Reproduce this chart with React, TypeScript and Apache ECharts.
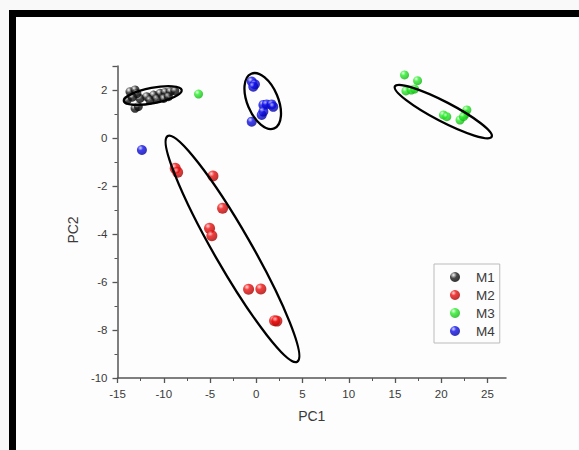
import React, { useEffect, useRef } from "react";
import * as echarts from "echarts";

// PC1 / PC2 scores
const M1: number[][] = [
  [-13.65, 1.93], [-13.1, 2.0], [-13.94, 1.58], [-13.1, 1.24], [-12.75, 1.31],
  [-12.57, 1.65], [-11.85, 1.72], [-11.1, 1.79], [-10.4, 1.86], [-9.86, 1.9],
  [-9.3, 1.93], [-8.8, 1.96], [-11.5, 1.58], [-10.75, 1.63], [-10.0, 1.65],
  [-9.5, 1.72], [-12.9, 1.85], [-13.4, 1.7],
];
const M2: number[][] = [
  [-8.76, -1.26], [-8.5, -1.43], [-4.68, -1.58], [-3.64, -2.93], [-5.05, -3.76],
  [-4.8, -4.07], [-0.83, -6.3], [0.5, -6.29], [1.98, -7.61], [2.23, -7.63],
];
const M3: number[][] = [
  [-6.24, 1.83], [16.03, 2.63], [17.44, 2.39], [16.18, 1.96], [16.76, 2.0],
  [17.12, 2.04], [20.24, 0.96], [20.6, 0.89], [22.03, 0.75], [22.6, 0.99],
  [22.77, 1.17], [22.4, 0.89],
];
const M4: number[][] = [
  [-12.36, -0.5], [-0.49, 2.35], [-0.14, 2.24], [-0.32, 2.14], [0.77, 1.38],
  [1.13, 1.4], [1.67, 1.4], [1.84, 1.3], [0.59, 0.96], [0.77, 1.1], [-0.49, 0.68],
];
// confidence ellipses: [centre x, centre y, major-axis end x, major-axis end y, minor/major ratio]
const ELLIPSES: number[][] = [
  [-11.19, 1.77, -8.06, 2.0, 0.26],
  [-2.57, -4.62, 4.44, -9.32, 0.143],
  [20.22, 1.1, 25.45, 0.05, 0.18],
  [0.7, 1.54, 1.94, 0.4, 0.52],
];
const GROUPS = ["M1", "M2", "M3", "M4"];
const X_TICKS = [-15, -10, -5, 0, 5, 10, 15, 20, 25];
const Y_TICKS = [-10, -8, -6, -4, -2, 0, 2];

const sphere = (light: string, mid: string, dark: string, spot = 0.35) =>
  new echarts.graphic.RadialGradient(0.35, 0.3, 0.75, [
    { offset: 0, color: light },
    { offset: spot, color: mid },
    { offset: 1, color: dark },
  ]);

const COLORS = [
  sphere("#f4f4f4", "#1a1a1a", "#000000", 0.45),
  sphere("#ffd0d0", "#f01010", "#a00000"),
  sphere("#e6ffe6", "#2cf02c", "#12b012"),
  sphere("#d0d0ff", "#1010ee", "#00009a"),
];
const SIZES = [9, 11, 9, 10];
const DATA = [M1, M2, M3, M4];

const AXIS_COLOR = "#555";
const TEXT_COLOR = "#3a3a3a";
const FONT = "Arial, 'Liberation Sans', sans-serif";

export default function App() {
  const ref = useRef<HTMLDivElement>(null);
  useEffect(() => {
    if (!ref.current) return;
    const chart = echarts.init(ref.current, undefined, { renderer: "svg" });
    const scatter = GROUPS.map((name, i) => ({
      name,
      type: "scatter",
      data: DATA[i],
      symbol: "circle",
      symbolSize: SIZES[i],
      itemStyle: { color: COLORS[i] },
      z: 3,
    }));
    chart.setOption({
      animation: false,
      backgroundColor: "#f9f9f9",
      textStyle: { fontFamily: FONT },
      graphic: [
        {
          type: "rect",
          silent: true,
          z: -10,
          shape: { x: 12.5, y: 13.5, width: 800, height: 800 },
          style: { fill: "#fdfdfd", stroke: "#000", lineWidth: 7 },
        },
      ],
      grid: { left: 117.5, right: 73, top: 66, bottom: 72, containLabel: false },
      xAxis: {
        type: "value",
        min: -15,
        max: 27,
        interval: 5,
        name: "PC1",
        nameLocation: "middle",
        nameGap: 31,
        nameTextStyle: { fontSize: 14, color: TEXT_COLOR, fontFamily: FONT },
        axisLine: { show: true, onZero: false, lineStyle: { color: AXIS_COLOR, width: 1.5 } },
        axisTick: { show: true, length: 5, customValues: X_TICKS, lineStyle: { color: AXIS_COLOR, width: 1.3 } },
        minorTick: { show: true, splitNumber: 2, length: 3, lineStyle: { color: AXIS_COLOR, width: 1 } },
        axisLabel: { customValues: X_TICKS, margin: 10, fontSize: 11.5, color: TEXT_COLOR, fontFamily: FONT },
        splitLine: { show: false },
        minorSplitLine: { show: false },
      },
      yAxis: {
        type: "value",
        min: -10,
        max: 3,
        interval: 2,
        name: "PC2",
        nameLocation: "middle",
        nameGap: 36,
        nameTextStyle: { fontSize: 14, color: TEXT_COLOR, fontFamily: FONT, padding: [0, 16, 0, 0] },
        axisLine: { show: true, onZero: false, lineStyle: { color: AXIS_COLOR, width: 1.5 } },
        axisTick: { show: true, length: 5, lineStyle: { color: AXIS_COLOR, width: 1.3 } },
        minorTick: { show: true, splitNumber: 2, length: 3, lineStyle: { color: AXIS_COLOR, width: 1 } },
        axisLabel: { customValues: Y_TICKS, margin: 10, fontSize: 11.5, color: TEXT_COLOR, fontFamily: FONT },
        splitLine: { show: false },
        minorSplitLine: { show: false },
      },
      legend: {
        data: GROUPS,
        orient: "vertical",
        left: 434,
        top: 264,
        padding: [6, 5, 5, 16],
        itemWidth: 10,
        itemHeight: 10,
        itemGap: 4,
        icon: "circle",
        backgroundColor: "#fdfdfd",
        borderColor: "#bbb",
        borderWidth: 1,
        textStyle: { fontSize: 13.5, lineHeight: 14, color: TEXT_COLOR, fontFamily: FONT, padding: [0, 0, 0, 11] },
      },
      series: [
        ...scatter,
        {
          type: "custom",
          name: "ellipses",
          data: ELLIPSES,
          encode: { x: [0, 2], y: [1, 3] },
          clip: false,
          silent: true,
          z: 5,
          renderItem: (params: any, api: any) => {
            const c = api.coord([api.value(0), api.value(1)]);
            const e = api.coord([api.value(2), api.value(3)]);
            const dx = e[0] - c[0];
            const dy = e[1] - c[1];
            const a = Math.hypot(dx, dy);
            const b = a * api.value(4);
            return {
              type: "ellipse",
              x: c[0],
              y: c[1],
              rotation: -Math.atan2(dy, dx),
              shape: { cx: 0, cy: 0, rx: a, ry: b },
              style: { fill: "none", stroke: "#000", lineWidth: 2.3 },
            };
          },
        },
      ],
    });
    return () => chart.dispose();
  }, []);
  return (
    <div
      ref={ref}
      style={{ position: "fixed", left: 0, top: 0, width: 579, height: 450 }}
    />
  );
}
